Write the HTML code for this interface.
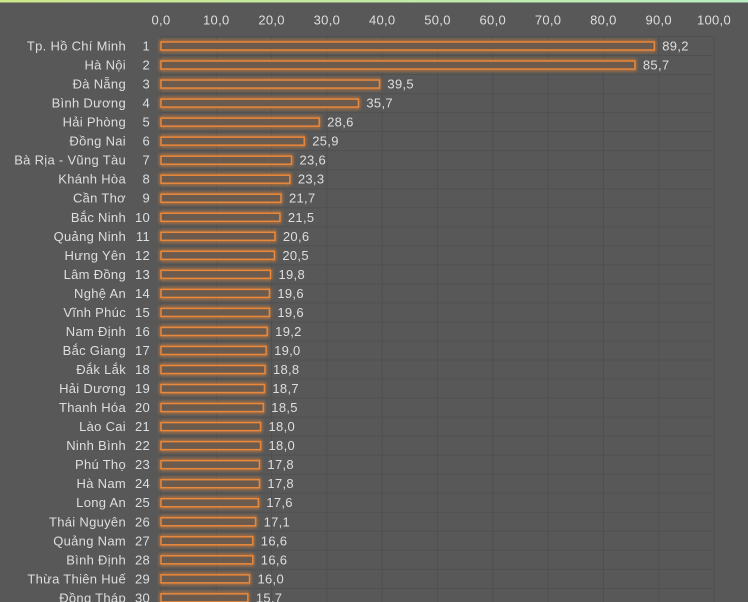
<!DOCTYPE html><html><head><meta charset="utf-8"><style>
body{margin:0;width:748px;height:602px;overflow:hidden;background:#585858;font-family:"Liberation Sans",sans-serif;}
</style></head><body>
<svg width="748" height="602" xmlns="http://www.w3.org/2000/svg" style="position:absolute;left:0;top:0">
<defs><linearGradient id="g" x1="0" x2="1"><stop offset="0" stop-color="#cde88a"/><stop offset="1" stop-color="#b8ecc0"/></linearGradient>
<filter id="gl" x="-5%" y="-100%" width="110%" height="300%"><feGaussianBlur stdDeviation="1.5"/></filter></defs>
<rect x="0" y="0" width="748" height="2.5" fill="url(#g)"/>
<g id="c"></g>
</svg>
<script>
const d=[["Tp. Hồ Chí Minh",89.2],["Hà Nội",85.7],["Đà Nẵng",39.5],["Bình Dương",35.7],["Hải Phòng",28.6],["Đồng Nai",25.9],["Bà Rịa - Vũng Tàu",23.6],["Khánh Hòa",23.3],["Cần Thơ",21.7],["Bắc Ninh",21.5],["Quảng Ninh",20.6],["Hưng Yên",20.5],["Lâm Đồng",19.8],["Nghệ An",19.6],["Vĩnh Phúc",19.6],["Nam Định",19.2],["Bắc Giang",19.0],["Đắk Lắk",18.8],["Hải Dương",18.7],["Thanh Hóa",18.5],["Lào Cai",18.0],["Ninh Bình",18.0],["Phú Thọ",17.8],["Hà Nam",17.8],["Long An",17.6],["Thái Nguyên",17.1],["Quảng Nam",16.6],["Bình Định",16.6],["Thừa Thiên Huế",16.0],["Đồng Tháp",15.7]];
const x0=161,k=5.53,y0=46,dy=19.03;let s="";
const T=(x,y,t,a)=>`<text x="${x}" y="${y}" fill="#dedede" font-size="13" letter-spacing="0.3" text-anchor="${a}" dominant-baseline="central">${t}</text>`;
for(let i=0;i<=10;i++){const x=x0+i*10*k;s+=`<line x1="${x}" y1="36.5" x2="${x}" y2="602" stroke="#505050"/>`;s+=T(x,20,(i*10).toFixed(1).replace('.',','),"middle");}
for(let i=0;i<=31;i++){const y=36.5+i*dy;s+=`<line x1="${x0}" y1="${y}" x2="${x0+100*k}" y2="${y}" stroke="#505050"/>`;}
d.forEach((r,i)=>{const y=y0+i*dy,w=r[1]*k;
s+=`<rect x="${x0}" y="${y-4.5}" width="${w}" height="9" fill="none" stroke="#ff8a2a" stroke-width="3" opacity="0.6" filter="url(#gl)"/>`;
s+=`<rect x="${x0}" y="${y-4}" width="${w}" height="8" fill="#6b5a4e" stroke="#e8883c" stroke-width="1.5"/>`;
s+=T(126,y,r[0],"end")+T(150,y,i+1,"end")+T(x0+w+8,y,r[1].toFixed(1).replace('.',','),"start");});
document.getElementById("c").innerHTML=s;
</script></body></html>
